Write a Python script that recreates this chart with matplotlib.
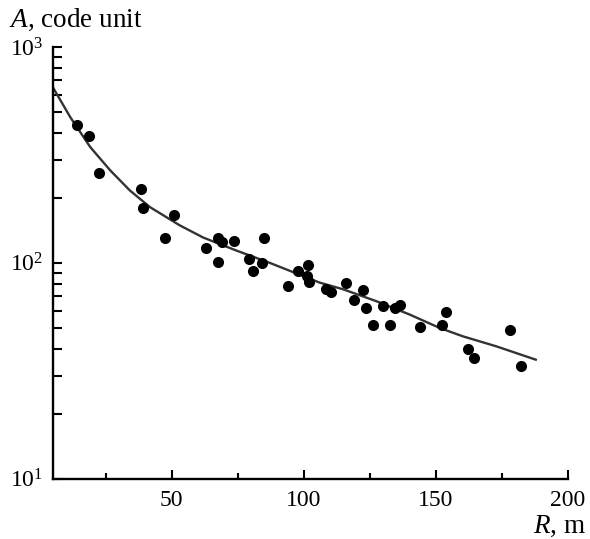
import matplotlib
matplotlib.use("Agg")
import matplotlib.pyplot as plt
from matplotlib.ticker import FixedLocator, LogLocator, NullFormatter, FixedFormatter

# Data points (R in m, A in code units)
R_points = [14.1, 18.7, 22.3, 38.2, 39.0, 50.8, 47.3, 63.1, 67.6, 68.9, 73.5, 67.6,
            79.3, 85.0, 80.8, 84.0, 93.9, 98.0, 101.6, 101.3, 102.0, 108.3, 110.2,
            116.0, 118.9, 122.4, 123.4, 126.2, 129.9, 132.5, 134.4, 136.3, 144.1,
            152.2, 153.8, 162.3, 164.6, 178.0, 182.2]
A_points = [437, 385, 261, 219, 180, 167, 130, 116.6, 130.7, 124.8, 126, 101,
            104.7, 130.7, 92.1, 100.3, 78.5, 91.5, 97.5, 87, 81.6, 75.5, 73.3,
            81.0, 67.5, 74.6, 62.0, 51.3, 63.1, 51.3, 62.0, 63.6, 50.4,
            51.5, 59.2, 39.9, 36.3, 48.6, 33.2]

# Fit curve
R_curve = [5.2, 11.5, 19.1, 26.7, 34.2, 41.8, 53.1, 61.9, 74.5, 87.1, 106.0, 114.8,
           127.4, 140.0, 151.4, 160.2, 172.8, 187.9]
A_curve = [643, 474, 344, 268, 216, 181, 149, 131, 114, 100, 81, 75.5,
           66.5, 57.7, 50, 45.7, 41.1, 35.6]

x_major = [50, 100, 150, 200]
x_minor = [25, 75, 125, 175]
x_labels = ["50", "100", "150", "200"]
y_major = [10, 100, 1000]
y_labels = [r"$10^{1}$", r"$10^{2}$", r"$10^{3}$"]

plt.rcParams["font.family"] = ["Liberation Serif", "DejaVu Serif"]
plt.rcParams["mathtext.fontset"] = "custom"
plt.rcParams["mathtext.rm"] = "Liberation Serif"
plt.rcParams["mathtext.it"] = "Liberation Serif:italic"

fig = plt.figure(figsize=(5.9, 5.39), dpi=100)
ax = fig.add_axes([53 / 590, (539 - 478.7) / 539, (567.7 - 53) / 590, (478.7 - 47) / 539])

ax.plot(R_curve, A_curve, color="#333333", lw=1.7, zorder=2)
ax.plot(R_points, A_points, "o", color="black", ms=8.0, mec="none", zorder=3)

ax.set_yscale("log")
ax.set_xlim(5, 200)
ax.set_ylim(10, 1000)

ax.xaxis.set_major_locator(FixedLocator(x_major))
ax.xaxis.set_major_formatter(FixedFormatter(x_labels))
ax.xaxis.set_minor_locator(FixedLocator(x_minor))
ax.xaxis.set_minor_formatter(NullFormatter())
ax.yaxis.set_major_locator(FixedLocator(y_major))
ax.yaxis.set_major_formatter(FixedFormatter(y_labels))
ax.yaxis.set_minor_locator(LogLocator(base=10, subs=range(2, 10)))
ax.yaxis.set_minor_formatter(NullFormatter())

for s in ["top", "right"]:
    ax.spines[s].set_visible(False)
for s in ["left", "bottom"]:
    ax.spines[s].set_linewidth(1.7)

ax.tick_params(axis="both", which="both", direction="in", width=1.5, labelsize=17)
ax.tick_params(axis="x", which="major", length=6.7, pad=8)
ax.tick_params(axis="x", which="minor", length=4.5)
ax.tick_params(axis="y", which="both", length=6.7, pad=7)
ax.tick_params(axis="y", which="major", labelsize=17)

fig.text(9 / 590, 1 - 27 / 539, r"$\it{A}$, code unit", fontsize=19.5, ha="left", va="baseline")
fig.text(586 / 590, (539 - 533) / 539, r"$\it{R}$, m", fontsize=19.5, ha="right", va="baseline")

fig.savefig("out.png", dpi=100)
